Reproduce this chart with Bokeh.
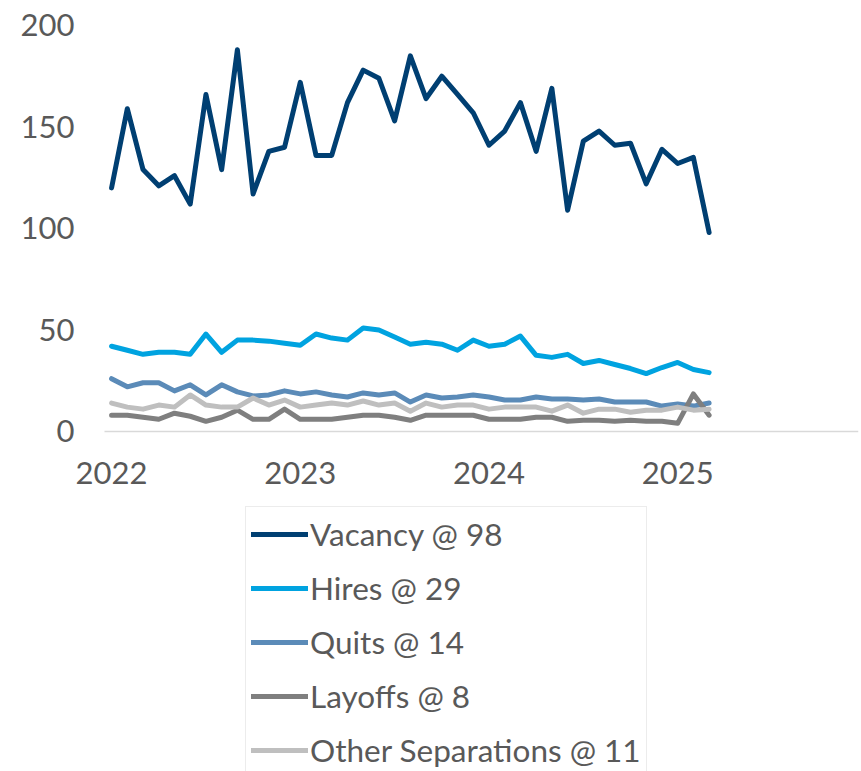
from bokeh.plotting import figure
from bokeh.models import Range1d, FixedTicker, Legend, LegendItem
from bokeh.embed import file_html
from bokeh.resources import INLINE

# Monthly data, Jan 2022 - Mar 2025 (thousands)
vacancy = [120, 159, 129, 121, 126, 112, 166, 129, 188, 117, 138, 140, 172, 136, 136, 162,
           178, 174, 153, 185, 164, 175, 166, 157, 141, 148, 162, 138, 169, 109, 143, 148,
           141, 142, 122, 139, 132, 135, 98]
hires = [42, 40, 38, 39, 39, 38, 48, 39, 45, 45, 44.5, 43.5, 42.5, 48, 46, 45, 51, 50, 46.5,
         43, 44, 43, 40, 45, 42, 43, 47, 37.5, 36.5, 38, 33.5, 35, 33, 31, 28.5, 31.5, 34,
         30.5, 29]
quits = [26, 22, 24, 24, 20, 23, 18, 23, 19.5, 17.5, 18, 20, 18.5, 19.5, 18, 17, 19, 18, 19,
         14.5, 18, 16.5, 17, 18, 17, 15.5, 15.5, 17, 16, 16, 15.5, 16, 14.5, 14.5, 14.5, 12.5,
         13.5, 12.5, 14]
layoffs = [8, 8, 7, 6, 9, 7.5, 5, 7, 10.5, 6, 6, 11, 6, 6, 6, 7, 8, 8, 7, 5.5, 8, 8, 8, 8, 6,
           6, 6, 7, 7, 5, 5.5, 5.5, 5, 5.5, 5, 5, 4, 18.5, 8]
other_sep = [14, 12, 11, 13, 12, 18, 13, 12, 12, 16.5, 13, 15.5, 12, 13, 14, 13, 15, 13, 14, 10,
             14, 12, 13, 13, 11, 12, 12, 12, 10, 13, 9, 11, 11, 9.5, 10.5, 10.5, 12, 10.5, 11]

series_names = ["Vacancy @ 98", "Hires @ 29", "Quits @ 14", "Layoffs @ 8", "Other Separations @ 11"]
series_colors = ["#003F72", "#00A3E0", "#5B8BB8", "#7F7F7F", "#BFBFBF"]

year_ticks = [0, 12, 24, 36]
year_labels = ["2022", "2023", "2024", "2025"]
y_ticks = [0, 50, 100, 150, 200]

months = list(range(len(vacancy)))

# axis extents (data units)
X0, X1 = -0.45, 47.5
Y0, Y1 = 0, 200

p = figure(width=861, height=771, output_backend="svg", toolbar_location=None,
           x_range=Range1d(X0 - 6.614, X1), y_range=Range1d(-167.5, 212.3),
           min_border_left=0, min_border_right=3, min_border_top=0, min_border_bottom=0)
p.outline_line_color = None
p.xgrid.visible = False
p.ygrid.visible = False
p.background_fill_color = "white"
p.border_fill_color = "white"

FONT = "Lato"
TXT = "#595959"

# y axis, drawn at the left edge of the plotted area
p.yaxis.fixed_location = X0
p.yaxis.bounds = (Y0, Y1)
p.yaxis.ticker = FixedTicker(ticks=y_ticks)
p.yaxis.axis_line_color = None
p.yaxis.major_tick_line_color = None
p.yaxis.minor_tick_line_color = None
p.yaxis.major_tick_out = 0
p.yaxis.major_tick_in = 0
p.yaxis.major_label_standoff = 30
p.yaxis.major_label_text_font = FONT
p.yaxis.major_label_text_font_size = "31px"
p.yaxis.major_label_text_color = TXT

# x axis, drawn at y = 0
p.xaxis.fixed_location = Y0
p.xaxis.bounds = (X0, X1)
p.xaxis.ticker = FixedTicker(ticks=year_ticks)
p.xaxis.major_label_overrides = {t: l for t, l in zip(year_ticks, year_labels)}
p.xaxis.axis_line_color = "#D9D9D9"
p.xaxis.axis_line_width = 1.5
p.xaxis.major_tick_line_color = None
p.xaxis.minor_tick_line_color = None
p.xaxis.major_tick_out = 0
p.xaxis.major_tick_in = 0
p.xaxis.major_label_standoff = 31
p.xaxis.major_label_text_font = FONT
p.xaxis.major_label_text_font_size = "31px"
p.xaxis.major_label_text_color = TXT

items = []
for name, color, ys in zip(series_names, series_colors,
                           [vacancy, hires, quits, layoffs, other_sep]):
    r = p.line(months, ys, line_color=color, line_width=5,
               line_join="round", line_cap="round")
    items.append(LegendItem(label=name, renderers=[r]))

legend = Legend(items=items, location=(245, -7),
                label_text_font=FONT, label_text_font_size="31.5px",
                label_text_color=TXT, glyph_width=57, glyph_height=44,
                label_standoff=2, spacing=10, padding=5, margin=0,
                border_line_color="#D9D9D9", border_line_width=1.5,
                background_fill_color="white", background_fill_alpha=1.0)
p.add_layout(legend)

open("out.html", "w").write(file_html(p, INLINE))
